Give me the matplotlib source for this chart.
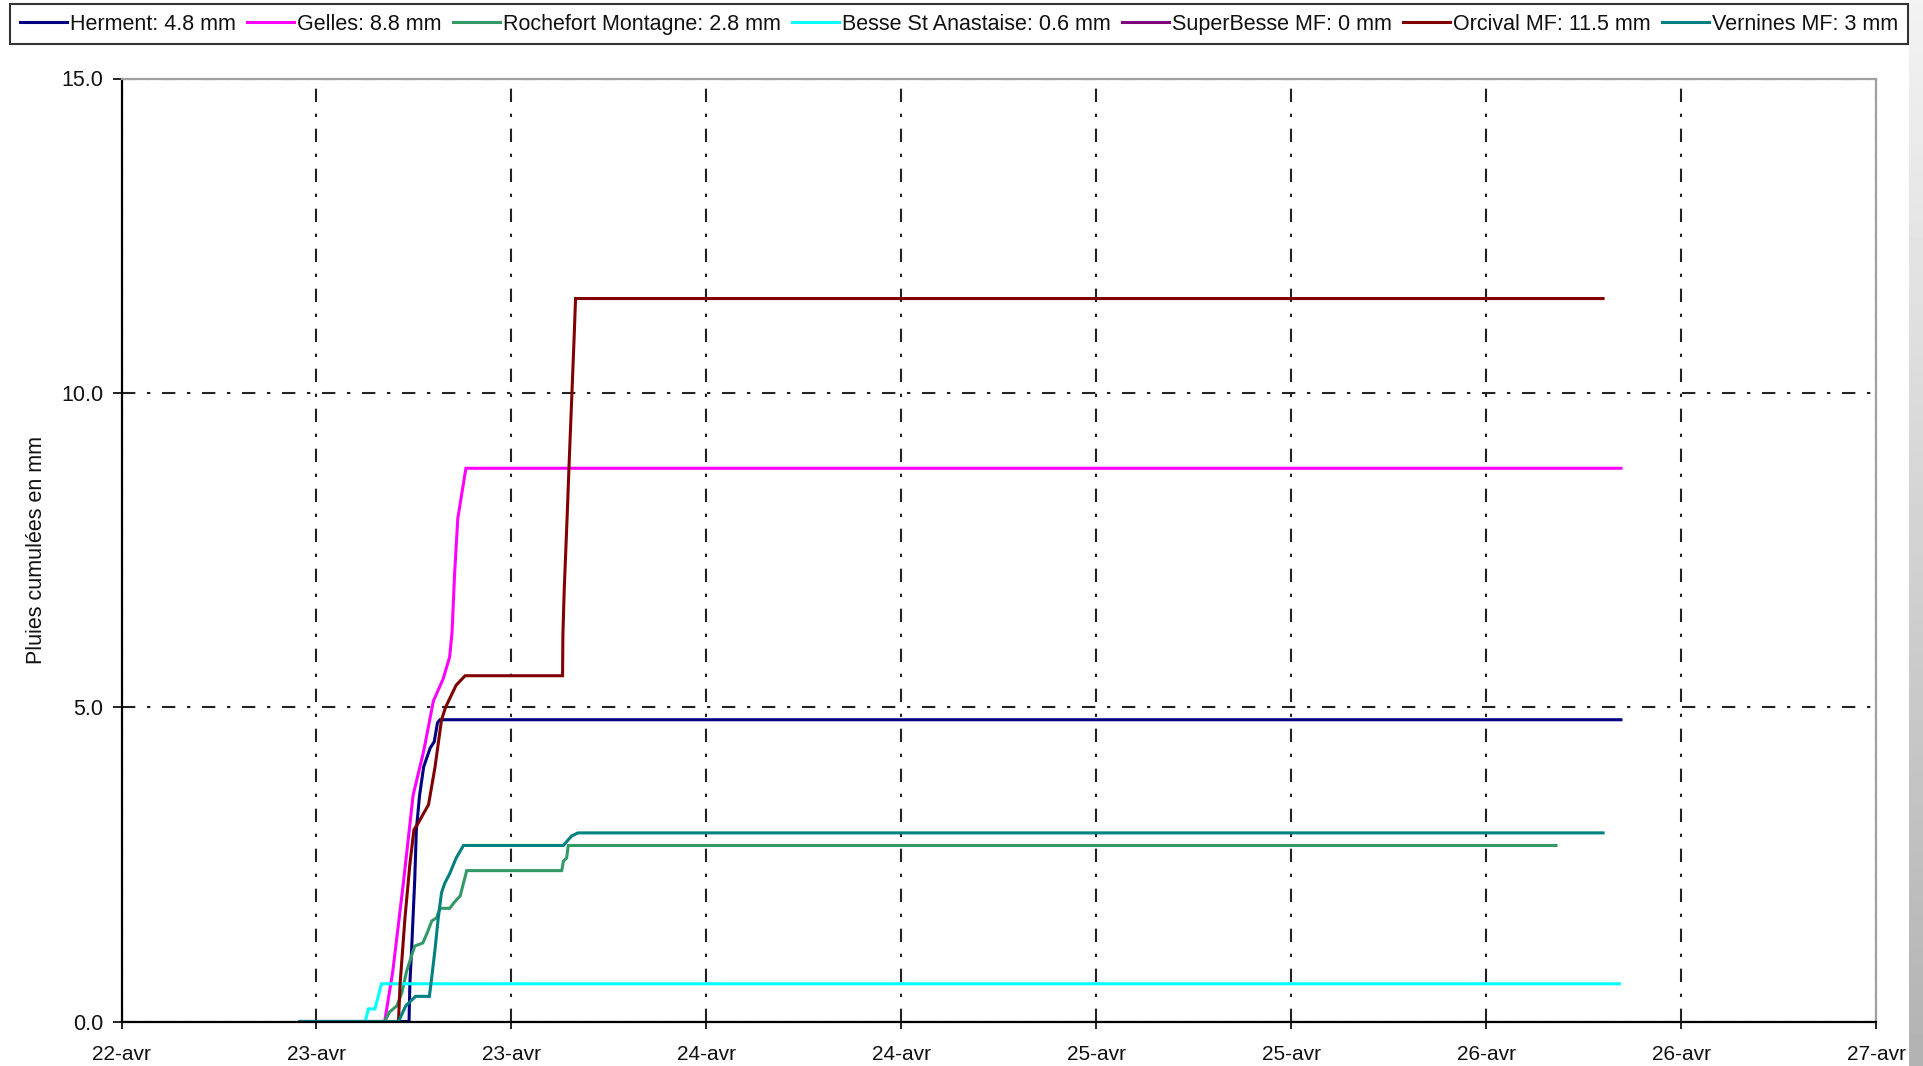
import matplotlib
matplotlib.use("Agg")
import matplotlib.pyplot as plt
import numpy as np
from matplotlib.ticker import FuncFormatter, MultipleLocator

plt.rcParams['font.family'] = ['Liberation Sans', 'DejaVu Sans']

# time in hours since 22-avr 00:00, cumulative rain in mm
herment_t = [23.0, 29.7, 29.75, 29.85, 30.05, 30.15, 30.35, 30.6, 31.0, 31.25, 31.45, 31.6, 104.3]
herment_v = [0.0, 0.0, 0.6, 1.1, 2.25, 3.05, 3.6, 4.05, 4.35, 4.45, 4.75, 4.8, 4.8]

gelles_t = [23.0, 28.2, 28.7, 29.35, 29.95, 30.6, 31.2, 31.8, 32.2, 32.35, 32.5, 32.7, 32.95, 33.2, 104.3]
gelles_v = [0.0, 0.0, 0.8, 2.2, 3.6, 4.3, 5.1, 5.45, 5.8, 6.2, 7.1, 8.0, 8.4, 8.8, 8.8]

rochefort_t = [23.0, 28.2, 28.5, 28.95, 29.25, 29.55, 30.05, 30.55, 30.8, 31.1, 31.4, 31.6, 32.2, 32.5,
               32.85, 33.25, 39.1, 39.2, 39.4, 39.5, 100.3]
rochefort_v = [0.0, 0.0, 0.15, 0.25, 0.45, 0.8, 1.2, 1.25, 1.4, 1.6, 1.65, 1.8, 1.8, 1.9,
               2.0, 2.4, 2.4, 2.55, 2.6, 2.8, 2.8]

besse_t = [23.0, 27.0, 27.2, 27.6, 28.0, 104.2]
besse_v = [0.0, 0.0, 0.2, 0.2, 0.6, 0.6]

superbesse_t = [23.0, 103.2]
superbesse_v = [0.0, 0.0]

orcival_t = [23.0, 29.05, 29.15, 29.45, 29.75, 30.0, 30.25, 30.9, 31.3, 31.7, 31.95, 32.6, 33.15,
             39.15, 39.17, 39.25, 39.35, 39.45, 39.55, 39.65, 39.75, 39.85, 39.95, 103.2]
orcival_v = [0.0, 0.0, 0.6, 1.65, 2.5, 3.05, 3.15, 3.45, 4.05, 4.8, 5.0, 5.35, 5.5,
             5.5, 6.15, 6.85, 7.5, 8.15, 8.85, 9.5, 10.15, 10.8, 11.5, 11.5]

vernines_t = [23.0, 29.05, 29.5, 30.1, 30.95, 31.05, 31.3, 31.5, 31.7, 31.9, 32.2, 32.6, 33.05,
              39.2, 39.7, 40.1, 103.2]
vernines_v = [0.0, 0.0, 0.25, 0.4, 0.4, 0.6, 1.15, 1.65, 2.05, 2.2, 2.35, 2.6, 2.8,
              2.8, 2.95, 3.0, 3.0]

labels = ["Herment: 4.8 mm", "Gelles: 8.8 mm", "Rochefort Montagne: 2.8 mm",
          "Besse St Anastaise: 0.6 mm", "SuperBesse MF: 0 mm", "Orcival MF: 11.5 mm",
          "Vernines MF: 3 mm"]
colors = ["#000080", "#FF00FF", "#339966", "#00FFFF", "#800080", "#800000", "#008080"]

series = [(herment_t, herment_v), (gelles_t, gelles_v), (rochefort_t, rochefort_v),
          (besse_t, besse_v), (superbesse_t, superbesse_v), (orcival_t, orcival_v),
          (vernines_t, vernines_v)]

W, H = 1923, 1066
fig = plt.figure(figsize=(W / 100, H / 100), dpi=100)
fig.patch.set_facecolor("white")

ax_l, ax_r, ax_t, ax_b = 121.5, 1876, 78.5, 1021.5
ax = fig.add_axes([ax_l / W, 1 - ax_b / H, (ax_r - ax_l) / W, (ax_b - ax_t) / H])

handles = []
for (t, v), c, lab in zip(series, colors, labels):
    h, = ax.plot(t, v, color=c, lw=2.2, label=lab, solid_joinstyle='miter')
    handles.append(h)

ax.set_xlim(12, 120)
ax.set_ylim(0, 15)
ax.xaxis.set_major_locator(MultipleLocator(12))
ax.yaxis.set_major_locator(MultipleLocator(5))
ax.xaxis.set_major_formatter(FuncFormatter(lambda x, p: f"{22 + int(x // 24)}-avr"))
ax.yaxis.set_major_formatter(FuncFormatter(lambda y, p: f"{y:.1f}"))

dash = (0, (6.4, 5.6, 1.6, 5.6))
ax.grid(True, color="#222222", lw=1.5, linestyle=dash)
ax.set_axisbelow(True)

for s in ["left", "bottom"]:
    ax.spines[s].set_color("black")
    ax.spines[s].set_linewidth(1.6)
for s in ["top", "right"]:
    ax.spines[s].set_color("#a0a0a0")
    ax.spines[s].set_linewidth(1.6)

ax.tick_params(axis="both", direction="out", width=1.2, color="black", labelcolor="#111111")
ax.tick_params(axis="x", length=5.2, pad=12, labelsize=15)
ax.tick_params(axis="y", length=6.8, pad=6.5, labelsize=15.5)

fig.text(37 / W, 1 - 550 / H, "Pluies cumulées en mm", rotation=90, ha="center", va="center",
         fontsize=15.5, color="#111111")

leg = fig.legend(handles, labels, ncol=7, loc="upper left",
                 bbox_to_anchor=(10 / W, 1 - 4 / H, 1898 / W, 0.0), mode="expand",
                 borderaxespad=0, frameon=True, fancybox=False, edgecolor="black",
                 fontsize=15.5, handlelength=2.2, handletextpad=0.15, columnspacing=0.1,
                 borderpad=0.45)
leg.get_frame().set_linewidth(1.5)
for t in leg.get_texts():
    t.set_color("#111111")

# grey gradient band at right edge
band = fig.add_axes([1909 / W, 0, 14 / W, 1])
grad = np.linspace(0.95, 0.70, 256).reshape(-1, 1)
band.imshow(grad, aspect="auto", cmap="gray", vmin=0, vmax=1, extent=[0, 1, 0, 1], origin="upper")
band.set_axis_off()

fig.savefig("out.png", dpi=100)
